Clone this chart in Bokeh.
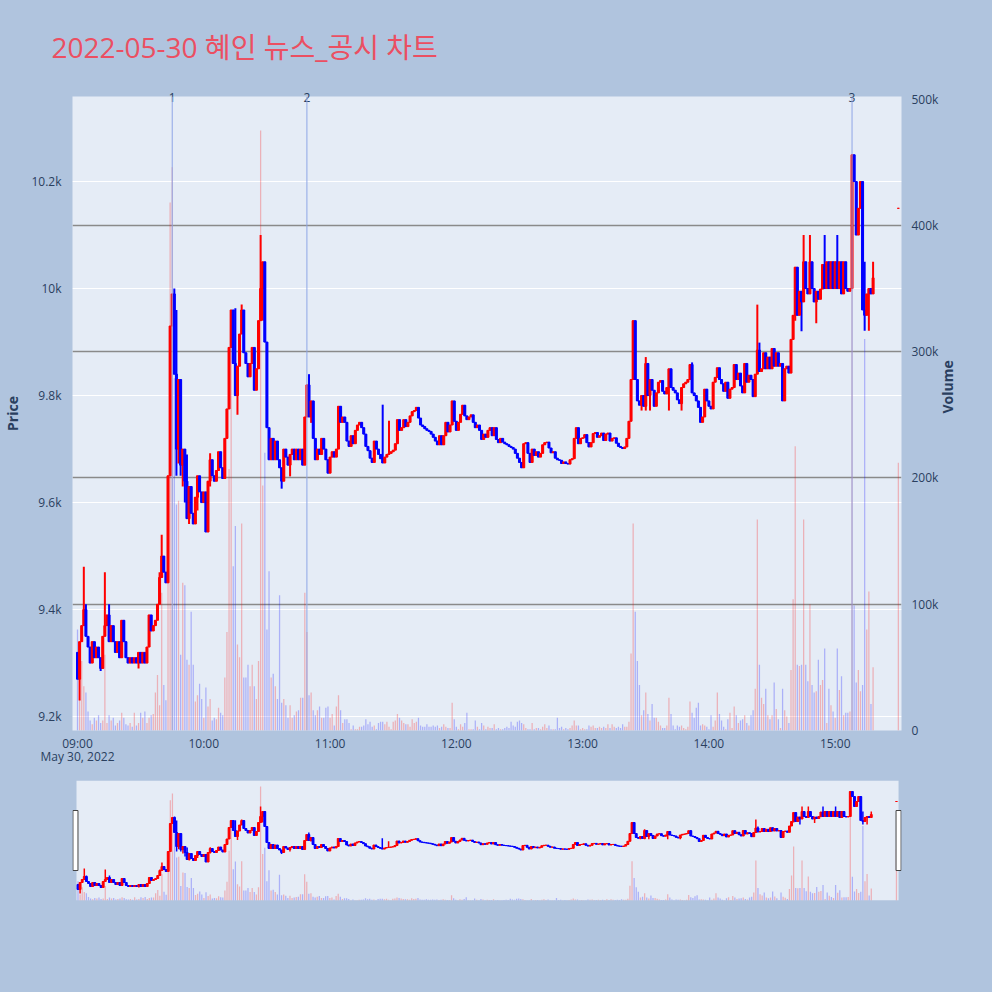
import math
import pandas as pd
from bokeh.plotting import figure
from bokeh.layouts import column
from bokeh.models import ColumnDataSource, Range1d, LinearAxis, FixedTicker, Span, Grid
from bokeh.embed import file_html
from bokeh.resources import INLINE

# ---------------- data ----------------
TITLE = "2022-05-30 혜인 뉴스_공시 차트"
DATE = "2022-05-30"
DATE_LABEL = "May 30, 2022"
session_start = "09:00"
first_open = 9320

# one-minute closes from 09:00 to 15:18
close = [
    9270, 9340, 9370, 9400, 9350, 9330, 9300, 9340, 9310, 9330,
    9310, 9290, 9350, 9370, 9390, 9340, 9370, 9340, 9320, 9340,
    9310, 9380, 9340, 9310, 9300, 9310, 9300, 9310, 9300, 9320,
    9300, 9320, 9300, 9330, 9390, 9360, 9370, 9380, 9410, 9460,
    9500, 9470, 9450, 9650, 9930, 9990, 9840, 9700, 9830, 9670,
    9700, 9640, 9570, 9630, 9580, 9560, 9610, 9650, 9620, 9600,
    9620, 9545, 9640, 9680, 9650, 9640, 9660, 9695, 9665, 9645,
    9720, 9775, 9890, 9960, 9860, 9800, 9855, 9915, 9960, 9880,
    9860, 9835, 9860, 9890, 9810, 9850, 9940, 10000, 10050, 9900,
    9740, 9680, 9720, 9680, 9715, 9680, 9665, 9640, 9700, 9685,
    9670, 9690, 9700, 9680, 9700, 9680, 9700, 9670, 9760, 9820,
    9760, 9790, 9720, 9680, 9700, 9690, 9720, 9700, 9680, 9655,
    9685, 9695, 9685, 9700, 9780, 9750, 9760, 9750, 9715, 9705,
    9725, 9710, 9735, 9745, 9750, 9740, 9728, 9705, 9697, 9683,
    9675, 9715, 9700, 9690, 9682, 9674, 9685, 9690, 9692, 9695,
    9698, 9710, 9755, 9735, 9740, 9755, 9742, 9750, 9762, 9770,
    9772, 9778, 9758, 9745, 9742, 9738, 9735, 9733, 9728, 9722,
    9715, 9708, 9725, 9708, 9725, 9750, 9732, 9745, 9790, 9752,
    9735, 9750, 9765, 9782, 9762, 9755, 9760, 9764, 9750, 9740,
    9745, 9735, 9718, 9728, 9722, 9735, 9740, 9725, 9740, 9718,
    9712, 9720, 9713, 9710, 9708, 9705, 9703, 9700, 9692, 9683,
    9675, 9665, 9710, 9712, 9692, 9675, 9700, 9688, 9695, 9685,
    9692, 9708, 9712, 9713, 9702, 9693, 9695, 9683, 9680, 9679,
    9673, 9676, 9673, 9672, 9680, 9682, 9720, 9740, 9710, 9720,
    9721, 9727, 9712, 9704, 9712, 9729, 9731, 9722, 9725, 9730,
    9716, 9728, 9730, 9715, 9720, 9721, 9711, 9705, 9703, 9701,
    9704, 9720, 9752, 9830, 9940, 9830, 9790, 9782, 9800, 9780,
    9860, 9800, 9830, 9810, 9780, 9805, 9825, 9828, 9808, 9803,
    9815, 9850, 9815, 9810, 9805, 9792, 9785, 9815, 9822, 9825,
    9830, 9858, 9805, 9800, 9790, 9778, 9750, 9760, 9812, 9790,
    9780, 9775, 9825, 9834, 9852, 9830, 9822, 9808, 9825, 9795,
    9812, 9815, 9858, 9830, 9842, 9818, 9805, 9860, 9825, 9838,
    9830, 9798, 9840, 9885, 9845, 9850, 9880, 9850, 9872, 9850,
    9888, 9855, 9880, 9855, 9860, 9790, 9850, 9855, 9842, 9905,
    9950, 10040, 9950, 9995, 9975, 10050, 10000, 9990, 10050, 10000,
    9975, 9995, 9980, 9999, 10045, 10000, 10050, 10000, 10050, 10000,
    10050, 10000, 10050, 9990, 10050, 10000, 9995, 10000, 10250, 10200,
    10100, 10150, 10200, 9960, 9950, 9990, 10000, 9990, 10020,
]

# volume per minute, thousands of shares
volume_k = [
    80, 25, 55, 35, 30, 15, 8, 5, 10, 8,
    12, 6, 8, 60, 6, 12, 8, 10, 4, 6,
    8, 14, 10, 5, 4, 6, 3, 14, 4, 6,
    14, 10, 15, 6, 10, 12, 13, 30, 44, 20,
    109, 36, 24, 120, 418, 446, 279, 179, 182, 60,
    117, 115, 56, 52, 94, 52, 23, 28, 37, 25,
    10, 34, 19, 25, 8, 10, 9, 18, 14, 12,
    42, 78, 207, 332, 130, 162, 68, 58, 164, 42,
    42, 52, 35, 52, 35, 25, 55, 475, 194, 220,
    80, 126, 42, 45, 35, 25, 107, 22, 25, 20,
    10, 20, 10, 12, 15, 16, 26, 26, 109, 78,
    28, 30, 16, 12, 16, 19, 10, 10, 18, 19,
    10, 13, 4, 19, 28, 16, 6, 9, 9, 6,
    1, 4, 1, 1, 3, 3, 4, 9, 5, 7,
    3, 4, 1, 6, 7, 7, 5, 7, 3, 1,
    7, 8, 13, 10, 8, 6, 5, 5, 3, 9,
    6, 7, 10, 4, 3, 3, 5, 3, 3, 4,
    3, 4, 2, 3, 5, 3, 2, 2, 22, 9,
    3, 1, 5, 3, 6, 14, 1, 1, 1, 8,
    3, 1, 6, 4, 1, 3, 2, 2, 5, 1,
    2, 1, 1, 2, 3, 2, 7, 4, 3, 7,
    8, 6, 5, 2, 1, 1, 6, 1, 2, 2,
    1, 3, 5, 2, 4, 1, 1, 1, 10, 2,
    3, 1, 2, 1, 2, 4, 8, 4, 4, 1,
    2, 1, 1, 4, 3, 4, 2, 2, 3, 2,
    3, 2, 5, 2, 5, 3, 2, 3, 2, 5,
    3, 3, 7, 61, 164, 94, 55, 36, 12, 16,
    30, 13, 8, 21, 10, 10, 7, 4, 2, 2,
    4, 26, 13, 4, 1, 4, 3, 4, 2, 1,
    3, 23, 14, 10, 18, 22, 4, 5, 4, 3,
    1, 12, 3, 8, 30, 13, 8, 3, 1, 9,
    14, 2, 19, 12, 6, 8, 9, 12, 6, 4,
    12, 16, 33, 167, 52, 26, 21, 33, 12, 9,
    12, 38, 17, 9, 2, 33, 16, 11, 6, 48,
    104, 225, 52, 51, 52, 167, 52, 39, 100, 36,
    30, 31, 56, 36, 40, 65, 6, 33, 20, 15,
    10, 65, 32, 43, 12, 14, 14, 15, 450, 99,
    38, 48, 31, 36, 310, 80, 110, 21, 50,
]

closing_auction_time = "15:30"
closing_auction_price = 10150
closing_auction_volume_k = 212

high_wick = {"09:03": 9480, "09:04": 9410, "09:13": 9470, "09:15": 9410, "09:39": 9470,
             "09:40": 9540, "09:46": 10000, "09:47": 9960, "09:52": 9690, "10:03": 9692,
             "10:15": 9963, "10:18": 9970, "10:27": 10100, "10:50": 9840, "11:25": 9783,
             "11:28": 9753, "13:30": 9872, "13:52": 9862, "14:23": 9970, "14:24": 9899,
             "14:45": 10100, "14:48": 10100, "14:55": 10100, "15:01": 10100,
             "15:14": 10050, "15:18": 10050}
low_wick = {"09:01": 9230, "09:11": 9285, "09:29": 9290, "09:47": 9650, "09:48": 9673,
            "09:49": 9650, "09:50": 9630, "09:51": 9600, "09:53": 9560, "09:57": 9585,
            "10:03": 9630, "10:16": 9764, "10:28": 9940, "10:37": 9626, "10:41": 9649,
            "10:51": 9749, "13:28": 9772, "13:30": 9772, "13:32": 9772, "13:41": 9772,
            "13:47": 9772, "14:41": 9940, "14:44": 9920, "14:51": 9935, "15:14": 9921,
            "15:16": 9921}

news_times = ["09:45", "10:49", "15:08"]
news_labels = ["1", "2", "3"]

price_ticks = [9200, 9400, 9600, 9800, 10000, 10200]
price_tick_labels = ["9.2k", "9.4k", "9.6k", "9.8k", "10k", "10.2k"]
volume_ticks = [0, 100000, 200000, 300000, 400000, 500000]
volume_tick_labels = ["0", "100k", "200k", "300k", "400k", "500k"]
time_ticks = ["09:00", "10:00", "11:00", "12:00", "13:00", "14:00", "15:00"]
time_tick_labels = ["09:00", "10:00", "11:00", "12:00", "13:00", "14:00", "15:00"]

# ---------------- build ----------------
RED, BLUE = "#ff0000", "#0000ff"
PAGE_BG, PLOT_BG, INK = "#b0c4de", "#e5ecf6", "#2a3f5f"
FONT = "Open Sans"
MIN = 60000.0


def ms(hm):
    return (pd.Timestamp(f"{DATE} {hm}") - pd.Timestamp("1970-01-01")) / pd.Timedelta(milliseconds=1)


t_index = list(pd.date_range(f"{DATE} {session_start}", periods=len(close), freq="1min"))
times = t_index + [pd.Timestamp(f"{DATE} {closing_auction_time}")]
closes = close + [closing_auction_price]
opens = [first_open] + close[:-1] + [closing_auction_price]
hm = [t.strftime("%H:%M") for t in times]
highs = [max(o, c, high_wick.get(h, 0)) for o, c, h in zip(opens, closes, hm)]
lows = [min(o, c, low_wick.get(h, 10 ** 9)) for o, c, h in zip(opens, closes, hm)]
colors = [RED if c >= o else BLUE for o, c in zip(opens, closes)]
vols = [v * 1000 for v in volume_k + [closing_auction_volume_k]]

src = ColumnDataSource(dict(
    t=times, o=opens, c=closes, h=highs, l=lows,
    top=[max(o, c) for o, c in zip(opens, closes)],
    bot=[min(o, c) for o, c in zip(opens, closes)],
    color=colors, vol=vols))

t0 = ms(session_start)
t_last = ms(closing_auction_time)


def plain_axis(ax, size="12px"):
    ax.axis_line_color = None
    ax.major_tick_line_color = None
    ax.minor_tick_line_color = None
    ax.major_label_text_font = FONT
    ax.major_label_text_font_size = size
    ax.major_label_text_color = INK
    ax.axis_label_text_font = FONT
    ax.axis_label_text_font_size = "14px"
    ax.axis_label_text_font_style = "bold"
    ax.axis_label_text_color = INK


# ---------------- main chart ----------------
p = figure(width=992, height=770, x_axis_type="datetime",
           x_range=Range1d(t0 - 2.38 * MIN, t0 + 391.5 * MIN),
           y_range=Range1d(9174, 10359),
           output_backend="svg", toolbar_location=None, title=TITLE,
           min_border_left=72, min_border_right=91, min_border_top=96, min_border_bottom=40,
           background_fill_color=PLOT_BG, border_fill_color=PAGE_BG, outline_line_color=None)

p.title.text_font = "Open Sans, Noto Sans CJK KR"
p.title.text_font_size = "28px"
p.title.text_font_style = "normal"
p.title.text_color = "#eb4f62"
p.title.align = "left"
p.title.vertical_align = "top"
p.title.offset = -21
p.title.standoff = 44

p.extra_y_ranges = {"vol": Range1d(0, 502000)}

p.xgrid.grid_line_color = None
p.ygrid.grid_line_color = "white"
p.ygrid.grid_line_width = 1
p.ygrid.ticker = FixedTicker(ticks=price_ticks)

# time axis
xax = p.xaxis[0]
xax.ticker = FixedTicker(ticks=[ms(t) for t in time_ticks])
xax.major_label_overrides = {ms(t): lab for t, lab in zip(time_ticks, time_tick_labels)}
plain_axis(xax)
xax.major_label_standoff = -2

# date line under the first time tick
dax = LinearAxis(ticker=FixedTicker(ticks=[t0]), major_label_overrides={t0: DATE_LABEL})
plain_axis(dax)
dax.major_label_standoff = -13
p.add_layout(dax, "below")

# news markers on top
nax = LinearAxis(ticker=FixedTicker(ticks=[ms(t) for t in news_times]),
                 major_label_overrides={ms(t): lab for t, lab in zip(news_times, news_labels)})
plain_axis(nax)
nax.major_label_standoff = -11
p.add_layout(nax, "above")

# price axis
yax = p.yaxis[0]
yax.ticker = FixedTicker(ticks=price_ticks)
yax.major_label_overrides = dict(zip(price_ticks, price_tick_labels))
plain_axis(yax)
yax.major_label_standoff = 5
yax.axis_label = "Price"
yax.axis_label_standoff = 6

# volume axis
vax = LinearAxis(y_range_name="vol", ticker=FixedTicker(ticks=volume_ticks))
vax.major_label_overrides = dict(zip(volume_ticks, volume_tick_labels))
plain_axis(vax)
vax.major_label_standoff = 4
vax.axis_label = "Volume"
vax.axis_label_standoff = 6
try:
    vax.axis_label_orientation = math.pi / 2
except Exception:
    pass
p.add_layout(vax, "right")

p.add_layout(Grid(dimension=1, y_range_name="vol", ticker=FixedTicker(ticks=volume_ticks[1:5]),
                  grid_line_color="#8a8a8a", grid_line_width=1.3))
p.add_layout(Grid(dimension=1, y_range_name="vol", ticker=FixedTicker(ticks=volume_ticks[:1]),
                  grid_line_color="white", grid_line_width=2))

p.vbar(x="t", width=0.6 * MIN, top="vol", bottom=0, y_range_name="vol", source=src,
       fill_color="color", fill_alpha=0.25, line_color=None)
p.segment(x0="t", y0="l", x1="t", y1="h", source=src, line_color="color", line_width=2)
p.vbar(x="t", width=0.95 * MIN, top="top", bottom="bot", source=src,
       fill_color="color", line_color="color", line_width=1)

for t in news_times:
    p.add_layout(Span(location=ms(t), dimension="height", line_color="#8fa6e6", line_width=1))

# ---------------- range slider ----------------
s = figure(width=992, height=222, x_axis_type="datetime",
           x_range=Range1d(t0 - 2.62 * MIN, t0 + 392.4 * MIN),
           y_range=Range1d(9160, 10360),
           output_backend="svg", toolbar_location=None,
           min_border_left=72, min_border_right=91, min_border_top=10, min_border_bottom=92,
           background_fill_color=PAGE_BG, border_fill_color=PAGE_BG, outline_line_color=None,
           x_axis_location=None, y_axis_location=None)
s.grid.visible = False
s.extra_y_ranges = {"vol": Range1d(0, 500000), "ui": Range1d(0, 1)}

bg_left, bg_right = t0 - 0.71 * MIN, t_last + 1.0 * MIN
s.quad(left=[bg_left], right=[bg_right], bottom=[0], top=[1], y_range_name="ui",
       fill_color=PLOT_BG, line_color=None)
s.vbar(x="t", width=0.6 * MIN, top="vol", bottom=0, y_range_name="vol", source=src,
       fill_color="color", fill_alpha=0.25, line_color=None)
s.segment(x0="t", y0="l", x1="t", y1="h", source=src, line_color="color", line_width=1.5)
s.vbar(x="t", width=0.9 * MIN, top="top", bottom="bot", source=src,
       fill_color="color", line_color="color", line_width=1)
hw = 1.2 * MIN
s.quad(left=[bg_left - 0.5 * MIN - hw, bg_right - hw], right=[bg_left - 0.5 * MIN + hw, bg_right + hw],
       bottom=[0.25, 0.25], top=[0.75, 0.75], y_range_name="ui",
       fill_color="white", line_color="#444444", line_width=1)

layout = column(p, s, spacing=0)
layout.styles = {"background-color": PAGE_BG}

html = file_html(layout, INLINE, title="chart")
html = html.replace("<body>", '<body style="background-color:#b0c4de;">', 1)
open("out.html", "w").write(html)
